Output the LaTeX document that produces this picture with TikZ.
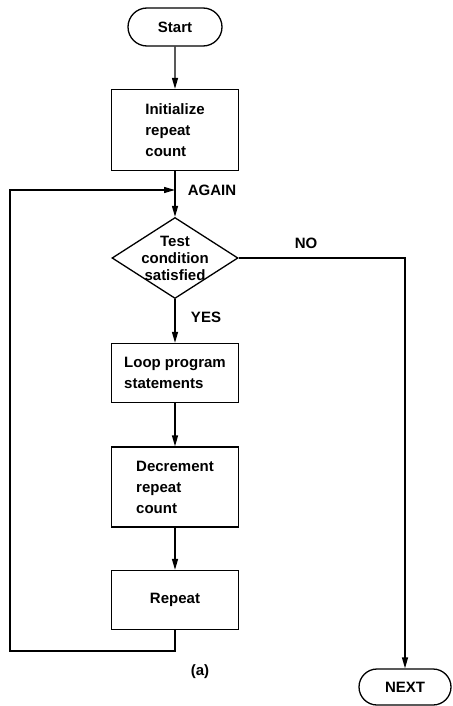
\documentclass[tikz,border=0pt]{standalone}
\usepackage{fontspec}
\setmainfont{Liberation Sans}
\usetikzlibrary{shapes.geometric,shapes.misc,arrows.meta}
\begin{document}
\begin{tikzpicture}[x=1pt, y=-1pt, line width=1.3pt, >={Triangle[length=11pt,width=6pt]},
		every node/.style={font=\fontsize{15}{21}\selectfont\bfseries},
		box/.style={draw, rectangle, minimum width=127pt, align=left, inner sep=0pt},
		term/.style={draw, rounded rectangle, minimum width=94pt, minimum height=38pt, inner sep=0pt},
		decision/.style={draw, diamond, minimum width=126pt, minimum height=81pt, inner sep=-12pt, align=center, font=\fontsize{15}{17}\selectfont\bfseries},
		lbl/.style={inner sep=0pt}]
				% 1. 画布范围
				\useasboundingbox (0,0) rectangle (452,706);
				
				% 2. 主流程框
				\node[term] (start) at (175,27) {Start};
				\node[box, minimum height=81pt] (init) at (175,130) {Initialize\\repeat\\count};
				\node[decision] (test) at (175,258) {Test\\condition\\satisfied};
				\node[box, minimum height=59pt] (body) at (175,373) {Loop program\\statements};
				\node[box, minimum height=80pt] (decr) at (175,487) {Decrement\\repeat\\count};
				\node[box, minimum height=59pt] (rep) at (175,600) {Repeat};
				\node[term, minimum width=92pt, minimum height=36pt] (next) at (405,687) {NEXT};
				
				% 3. 回路转折点
				\coordinate (join) at (175,190);
				\coordinate (corner) at (10,651);
				
				% 4. 连线
				\draw[->] (start) -- (init);
				\draw[->] (init) -- (test);
				\draw[->] (test) -- (body);
				\draw[->] (body) -- (decr);
				\draw[->] (decr) -- (rep);
				\draw[->] (rep.south) |- (corner) |- (join);
				\draw[->] (test.east) -| (next.north);
				
				% 5. 文字标注
				\node[lbl] (againlbl) at (212,190) {AGAIN};
				\node[lbl] (nolbl) at (306,243) {NO};
				\node[lbl] (yeslbl) at (206,317) {YES};
				\node[lbl] (caption) at (200,672) {(a)};
			\end{tikzpicture}
\end{document}
